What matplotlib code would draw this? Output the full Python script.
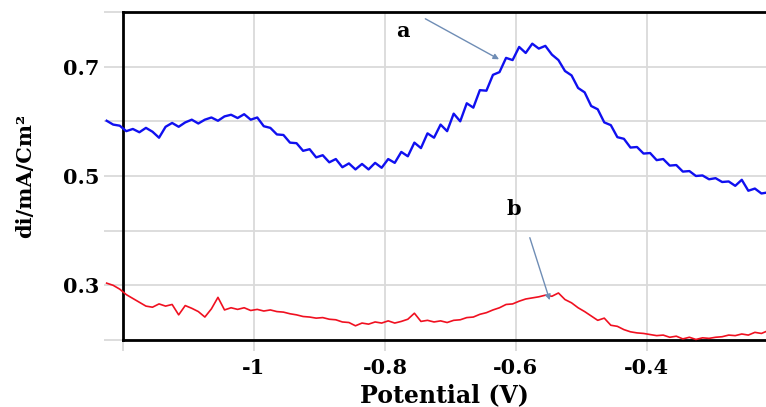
import matplotlib.pyplot as plt

# Potential (V), common to both scans
potential = [
    -1.225, -1.215, -1.205, -1.195, -1.185, -1.175, -1.165, -1.155, -1.145, -1.135,
    -1.125, -1.115, -1.105, -1.095, -1.085, -1.075, -1.065, -1.055, -1.045, -1.035,
    -1.025, -1.015, -1.005, -0.995, -0.985, -0.975, -0.965, -0.955, -0.945, -0.935,
    -0.925, -0.915, -0.905, -0.895, -0.885, -0.875, -0.865, -0.855, -0.845, -0.835,
    -0.825, -0.815, -0.805, -0.795, -0.785, -0.775, -0.765, -0.755, -0.745, -0.735,
    -0.725, -0.715, -0.705, -0.695, -0.685, -0.675, -0.665, -0.655, -0.645, -0.635,
    -0.625, -0.615, -0.605, -0.595, -0.585, -0.575, -0.565, -0.555, -0.545, -0.535,
    -0.525, -0.515, -0.505, -0.495, -0.485, -0.475, -0.465, -0.455, -0.445, -0.435,
    -0.425, -0.415, -0.405, -0.395, -0.385, -0.375, -0.365, -0.355, -0.345, -0.335,
    -0.325, -0.315, -0.305, -0.295, -0.285, -0.275, -0.265, -0.255, -0.245, -0.235,
    -0.225, -0.215,
]

# curve a (blue)
current_a = [
    0.601, 0.594, 0.592, 0.582, 0.586, 0.580, 0.588, 0.581, 0.570, 0.590,
    0.597, 0.590, 0.598, 0.603, 0.596, 0.603, 0.607, 0.601, 0.609, 0.612,
    0.606, 0.613, 0.603, 0.607, 0.591, 0.588, 0.576, 0.575, 0.561, 0.560,
    0.546, 0.549, 0.534, 0.538, 0.525, 0.531, 0.516, 0.523, 0.512, 0.522,
    0.512, 0.524, 0.515, 0.531, 0.524, 0.544, 0.536, 0.561, 0.551, 0.578,
    0.570, 0.594, 0.582, 0.614, 0.600, 0.633, 0.625, 0.657, 0.656, 0.685,
    0.690, 0.716, 0.712, 0.736, 0.725, 0.742, 0.733, 0.738, 0.722, 0.712,
    0.692, 0.684, 0.661, 0.653, 0.628, 0.622, 0.598, 0.593, 0.571, 0.568,
    0.552, 0.553, 0.541, 0.542, 0.529, 0.531, 0.519, 0.520, 0.508, 0.509,
    0.500, 0.501, 0.494, 0.496, 0.489, 0.490, 0.482, 0.493, 0.473, 0.477,
    0.468, 0.470,
]

# curve b (red)
current_b = [
    0.304, 0.300, 0.293, 0.283, 0.276, 0.269, 0.262, 0.260, 0.266, 0.262,
    0.265, 0.246, 0.263, 0.258, 0.252, 0.242, 0.257, 0.278, 0.255, 0.259,
    0.256, 0.259, 0.254, 0.256, 0.253, 0.255, 0.252, 0.251, 0.248, 0.246,
    0.243, 0.242, 0.240, 0.241, 0.238, 0.237, 0.233, 0.232, 0.226, 0.231,
    0.229, 0.233, 0.231, 0.235, 0.231, 0.234, 0.238, 0.249, 0.234, 0.236,
    0.233, 0.235, 0.232, 0.236, 0.237, 0.241, 0.242, 0.247, 0.250, 0.255,
    0.259, 0.265, 0.266, 0.271, 0.275, 0.277, 0.279, 0.282, 0.280, 0.286,
    0.274, 0.268, 0.259, 0.252, 0.244, 0.236, 0.240, 0.227, 0.225, 0.219,
    0.215, 0.213, 0.212, 0.210, 0.208, 0.209, 0.205, 0.207, 0.202, 0.205,
    0.201, 0.204, 0.203, 0.205, 0.206, 0.209, 0.208, 0.211, 0.209, 0.214,
    0.212, 0.217,
]

x_ticks = [-1.2, -1.0, -0.8, -0.6, -0.4]
x_labels = ['', '-1', '-0.8', '-0.6', '-0.4']
y_ticks = [0.2, 0.3, 0.4, 0.5, 0.6, 0.7, 0.8]
y_labels = ['', '0.3', '', '0.5', '', '0.7', '']

plt.rcParams['font.family'] = 'DejaVu Serif'
plt.rcParams['font.weight'] = 'bold'

fig = plt.figure(figsize=(7.66, 4.07), dpi=100)
ax = fig.add_axes([0.1606, 0.1646, 0.8394, 0.806])

ax.plot(potential, current_a, color='#1010f0', lw=1.7, clip_on=False, zorder=3)
ax.plot(potential, current_b, color='#f01020', lw=1.2, clip_on=False, zorder=3)

ax.set_xlim(-1.2, -0.218)
ax.set_ylim(0.2, 0.8)

ax.set_xticks(x_ticks)
ax.set_xticklabels(x_labels, fontsize=15, fontweight='bold')
ax.set_yticks(y_ticks)
ax.set_yticklabels(y_labels, fontsize=15, fontweight='bold')

ax.grid(True, color='#dadada', lw=1.3)
ax.set_axisbelow(True)
ax.tick_params(axis='y', length=14, width=1.3, color='#dadada', pad=3)
ax.tick_params(axis='x', length=8, width=1.3, color='#dadada', pad=5)

for side in ['left', 'top', 'bottom']:
    ax.spines[side].set_linewidth(2)
    ax.spines[side].set_color('black')
ax.spines['right'].set_visible(False)

ax.set_xlabel('Potential (V)', fontsize=17, fontweight='bold', labelpad=4)
ax.set_ylabel('di/mA/Cm²', fontsize=15, fontweight='bold', labelpad=20)

# labels with arrows
ax.text(-0.772, 0.766, 'a', fontsize=15, fontweight='bold', ha='center', va='center')
ax.annotate('', xy=(-0.622, 0.711), xytext=(-0.742, 0.790),
            arrowprops=dict(arrowstyle='-|>', color='#6f8db5', lw=1, mutation_scale=8),
            annotation_clip=False)
ax.text(-0.603, 0.44, 'b', fontsize=15, fontweight='bold', ha='center', va='center')
ax.annotate('', xy=(-0.547, 0.268), xytext=(-0.580, 0.392),
            arrowprops=dict(arrowstyle='-|>', color='#6f8db5', lw=1, mutation_scale=8))

plt.savefig('out.png', dpi=100)
